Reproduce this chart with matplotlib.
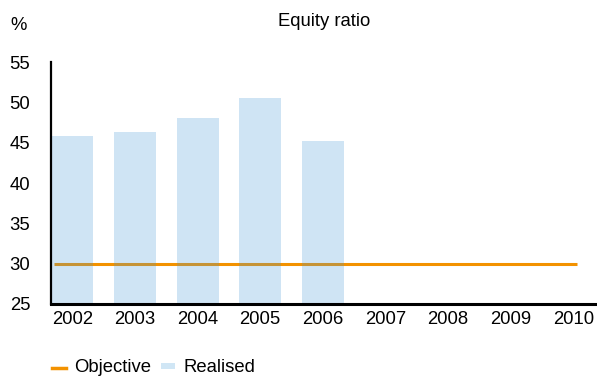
import matplotlib
matplotlib.use("Agg")
import matplotlib.pyplot as plt
from matplotlib.lines import Line2D
from matplotlib.patches import Patch
import numpy as np

plt.rcParams['font.family'] = ['Liberation Sans', 'DejaVu Sans']

years = ['2002', '2003', '2004', '2005', '2006', '2007', '2008', '2009', '2010']
realised = [45.8, 46.3, 48.0, 50.5, 45.2]
objective = [30, 30, 30, 30, 30, 30, 30, 30, 30]

ORANGE = '#F39200'
BAR_RGBA = (67/255, 151/255, 215/255, 0.25)
LEGEND_BLUE = '#D0E6F5'
FS = 13.3

fig = plt.figure(figsize=(5.97, 3.79), dpi=100)
ax = fig.add_axes([51/597, 1 - 304/379, (597-51)/597, (304-62)/379])
ax_line = ax.twiny()

x = np.arange(len(years))
# objective line on its own x scale (first point near the axis, last at 2010)
ax_line.plot(x, objective, color=ORANGE, lw=2.2, solid_capstyle='butt')
ax_line.set_xlim(-0.046, 8.306)
ax_line.set_ylim(25, 55)
ax_line.axis('off')

ax.bar(x[:len(realised)], np.array(realised) - 25, bottom=25, width=0.67,
       color=BAR_RGBA)
ax.set_zorder(ax_line.get_zorder() + 1)
ax.patch.set_visible(False)

ax.set_ylim(25, 55)
ax.set_xlim(-0.343, 8.38)
ax.set_yticks([25, 30, 35, 40, 45, 50, 55])
ax.set_xticks(x)
ax.set_xticklabels(years)
ax.tick_params(length=0, labelsize=FS)
ax.tick_params(axis='x', pad=5)
ax.tick_params(axis='y', pad=15)
ax.spines['top'].set_visible(False)
ax.spines['right'].set_visible(False)
ax.spines['left'].set_linewidth(1.6)
ax.spines['bottom'].set_linewidth(2.2)

fig.text(324/597, 1 - 22/379, 'Equity ratio', ha='center', va='center', fontsize=FS)
fig.text(10/597, 1 - 25/379, '%', ha='left', va='center', fontsize=FS)

handles = [Line2D([0], [0], color=ORANGE, lw=2.5),
           Patch(facecolor=LEGEND_BLUE)]
leg = fig.legend(handles, ['Objective', 'Realised'], loc='center left',
                 bbox_to_anchor=(52/597, 1 - 368/379), ncol=2, frameon=False,
                 fontsize=FS, handlelength=0.75, handleheight=0.15,
                 handletextpad=0.45, columnspacing=0.55,
                 borderpad=0, borderaxespad=0)

fig.savefig('out.png', dpi=100)
